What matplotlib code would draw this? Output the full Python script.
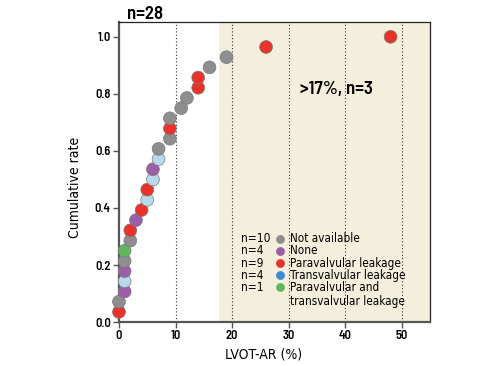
import matplotlib
matplotlib.use("Agg")
import matplotlib.pyplot as plt

# LVOT-AR (%) per patient, sorted; cumulative rate = rank / n
lvot_ar = [0, 0, 1, 1, 1, 1, 1, 2, 2, 3, 4, 5, 5, 6, 6, 7, 7, 9, 9, 9,
           11, 12, 14, 14, 16, 19, 26, 48]
group = ["para", "na", "none", "trans", "none", "na", "both", "na", "para", "none",
         "para", "trans", "para", "trans", "none", "trans", "na", "na", "para", "na",
         "na", "na", "para", "para", "na", "na", "para", "para"]

groups = ["na", "none", "para", "trans", "both"]
group_n = ["n=10", "n=4", "n=9", "n=4", "n=1"]
group_labels = ["Not available", "None", "Paravalvular leakage",
                "Transvalvular leakage", "Paravalvular and\ntransvalvular leakage"]
point_colors = {"na": "#8e8e8e", "none": "#9c5ea8", "para": "#e8322a",
                "trans": "#b8d9ec", "both": "#5db85c"}
legend_colors = {"na": "#8e8e8e", "none": "#9c5ea8", "para": "#e8322a",
                 "trans": "#3a8fd2", "both": "#5db85c"}

n = len(lvot_ar)
rate = [(i + 1) / n for i in range(n)]

bold_font = dict(family=["Barlow Semi Condensed", "DejaVu Sans"], fontweight=600)
body_font = dict(family="DejaVu Sans", fontstretch="condensed")

fig = plt.figure(figsize=(5.02, 3.66), dpi=100)
ax = fig.add_axes([0.237, 0.12, 0.62, 0.82])

ax.axvspan(17.7, 55, color="#f3efdc", zorder=0, lw=0)
for xv in [10, 20, 30, 40, 50]:
    ax.axvline(xv, color="#333333", ls=(0, (1, 2)), lw=0.8, zorder=1)

ax.scatter(lvot_ar, rate, s=85, c=[point_colors[g] for g in group],
           edgecolors="#7a7a7a", linewidths=0.5, zorder=3, clip_on=False)

ax.set_xlim(0, 55)
ax.set_ylim(0, 1.052)
ax.set_xticks([0, 10, 20, 30, 40, 50])
ax.set_yticks([0, 0.2, 0.4, 0.6, 0.8, 1.0])
ax.set_yticklabels(["0.0", "0.2", "0.4", "0.6", "0.8", "1.0"])
for lab in ax.get_xticklabels() + ax.get_yticklabels():
    lab.set_family(["Barlow Semi Condensed", "DejaVu Sans"])
    lab.set_fontsize(9)
    lab.set_fontweight(600)
ax.tick_params(direction="out", length=4, width=1, color="#555555", pad=2)

for s in ["left", "bottom"]:
    ax.spines[s].set_color("#555555")
    ax.spines[s].set_linewidth(1.6)
for s in ["top", "right"]:
    ax.spines[s].set_color("#222222")
    ax.spines[s].set_linewidth(0.9)

ax.set_xlabel("LVOT-AR (%)", fontsize=10, **body_font)
ax.set_ylabel("Cumulative rate", fontsize=10, **body_font)
ax.xaxis.set_label_coords(0.465, -0.085)
ax.yaxis.set_label_coords(-0.12, 0.45)

ax.text(0.027, 1.01, "n=28", transform=ax.transAxes, fontsize=13.5,
        ha="left", va="baseline", **bold_font)
ax.text(32.0, 0.815, ">17%, n=3", fontsize=13.5, ha="left", va="center", **bold_font)

# legend built from text
y0 = 0.292
dy = 0.0425
for i, g in enumerate(groups):
    yy = y0 - i * dy
    ax.text(21.6, yy, group_n[i], fontsize=8.6, ha="left", va="center", **body_font)
    ax.scatter([28.4], [yy], s=40, color=legend_colors[g], zorder=4, lw=0)
    ax.text(30.2, yy, group_labels[i], fontsize=8.4, ha="left",
            va="top" if i == 4 else "center", linespacing=1.05, **body_font)
ax.texts[-1].set_y(y0 - 4 * dy + 0.021)

fig.savefig("out.png", dpi=100)
